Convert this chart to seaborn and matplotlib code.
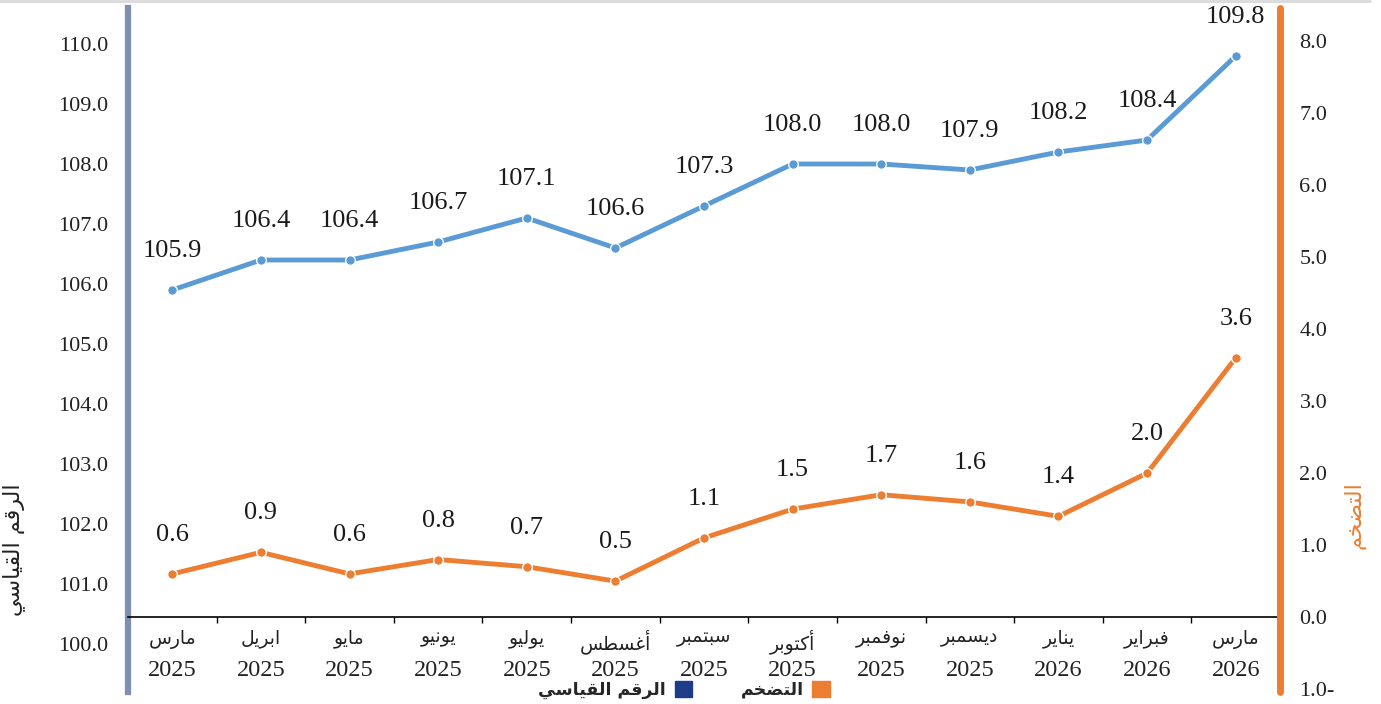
import numpy as np
import pandas as pd
import seaborn as sns
import matplotlib.pyplot as plt
from matplotlib.patches import Patch
from matplotlib.lines import Line2D
from matplotlib.ticker import FixedLocator, FuncFormatter

# chart data
months = ["مارس", "ابريل", "مايو", "يونيو", "يوليو", "أغسطس", "سبتمبر",
          "أكتوبر", "نوفمبر", "ديسمبر", "يناير", "فبراير", "مارس"]
years = ["2025", "2025", "2025", "2025", "2025", "2025", "2025",
         "2025", "2025", "2025", "2026", "2026", "2026"]
index_values = [105.9, 106.4, 106.4, 106.7, 107.1, 106.6, 107.3,
                108.0, 108.0, 107.9, 108.2, 108.4, 109.8]
inflation_values = [0.6, 0.9, 0.6, 0.8, 0.7, 0.5, 1.1,
                    1.5, 1.7, 1.6, 1.4, 2.0, 3.6]
index_ticks = [100, 101, 102, 103, 104, 105, 106, 107, 108, 109, 110]
inflation_ticks = [-1, 0, 1, 2, 3, 4, 5, 6, 7, 8]
index_name = "الرقم القياسي"
inflation_name = "التضخم"

blue = "#5b9bd5"
navy = "#1f3c88"
orange = "#ed7d31"

# matplotlib does no arabic shaping, so pick the joined letter forms by hand
# (isolated, final, initial, medial); None means the letter never joins forward
forms = {
    "ا": (0xFE8D, 0xFE8E, None, None), "أ": (0xFE83, 0xFE84, None, None),
    "د": (0xFEA9, 0xFEAA, None, None), "ر": (0xFEAD, 0xFEAE, None, None),
    "و": (0xFEED, 0xFEEE, None, None),
    "ب": (0xFE8F, 0xFE90, 0xFE91, 0xFE92), "ت": (0xFE95, 0xFE96, 0xFE97, 0xFE98),
    "خ": (0xFEA5, 0xFEA6, 0xFEA7, 0xFEA8), "س": (0xFEB1, 0xFEB2, 0xFEB3, 0xFEB4),
    "ض": (0xFEBD, 0xFEBE, 0xFEBF, 0xFEC0), "ط": (0xFEC1, 0xFEC2, 0xFEC3, 0xFEC4),
    "غ": (0xFECD, 0xFECE, 0xFECF, 0xFED0), "ف": (0xFED1, 0xFED2, 0xFED3, 0xFED4),
    "ق": (0xFED5, 0xFED6, 0xFED7, 0xFED8), "ك": (0xFED9, 0xFEDA, 0xFEDB, 0xFEDC),
    "ل": (0xFEDD, 0xFEDE, 0xFEDF, 0xFEE0), "م": (0xFEE1, 0xFEE2, 0xFEE3, 0xFEE4),
    "ن": (0xFEE5, 0xFEE6, 0xFEE7, 0xFEE8), "ي": (0xFEF1, 0xFEF2, 0xFEF3, 0xFEF4),
}


def shape(text):
    out = []
    for i, ch in enumerate(text):
        if ch not in forms:
            out.append(ch)
            continue
        prev = text[i - 1] if i > 0 else ""
        nxt = text[i + 1] if i + 1 < len(text) else ""
        iso, fin, ini, med = forms[ch]
        join_prev = prev in forms and forms[prev][2] is not None
        join_next = ini is not None and nxt in forms
        if join_prev and join_next:
            out.append(chr(med))
        elif join_prev:
            out.append(chr(fin))
        elif join_next:
            out.append(chr(ini))
        else:
            out.append(chr(iso))
    return "".join(reversed(out))


data = pd.DataFrame({"period": [m + " " + y for m, y in zip(months, years)],
                     "index": index_values, "inflation": inflation_values})

sns.set_style("white")
plt.rcParams["font.family"] = ["Liberation Serif", "DejaVu Sans"]

fig = plt.figure(figsize=(13.81, 7.04), dpi=100)
ax = fig.add_axes([128 / 1381, 12 / 704, 1152 / 1381, 684 / 704])

sns.lineplot(data=data, x="period", y="index", ax=ax, color=blue, lw=3.5,
             marker="o", ms=7, mec="white", mew=1, sort=False)
ax2 = ax.twinx()
sns.lineplot(data=data, x="period", y="inflation", ax=ax2, color=orange,
             lw=3.5, marker="o", ms=7, mec="white", mew=1, sort=False)

ax.set_xlim(-0.5, len(months) - 0.5)
ax.set_ylim(99.2, 110.6)
ax2.set_ylim(-1.04, 8.46)

# value labels
for i, v in enumerate(index_values):
    ax.annotate(f"{v:.1f}", (i, v), xytext=(0, 28), textcoords="offset points",
                ha="center", va="center", fontsize=19, color="#1a1a1a")
for i, v in enumerate(inflation_values):
    ax2.annotate(f"{v:.1f}", (i, v), xytext=(0, 28), textcoords="offset points",
                 ha="center", va="center", fontsize=19, color="#1a1a1a")

# y axes
ax.yaxis.set_major_locator(FixedLocator(index_ticks))
ax.yaxis.set_major_formatter(FuncFormatter(lambda v, p: f"{v:.1f}"))
ax.tick_params(axis="y", length=0, pad=14, labelsize=16, labelcolor="#222222")
ax2.yaxis.set_major_locator(FixedLocator(inflation_ticks))
ax2.yaxis.set_major_formatter(FuncFormatter(
    lambda v, p: f"{abs(v):.1f}-" if v < 0 else f"{v:.1f}"))
ax2.tick_params(axis="y", length=0, pad=14, labelsize=16, labelcolor="#222222")

# x axis line sits at zero inflation; months on it, years one line below
lo, hi = ax2.get_ylim()
base = (0 - lo) / (hi - lo)
ax.spines["bottom"].set_position(("axes", base))
ax.spines["bottom"].set_color("black")
ax.spines["bottom"].set_linewidth(1.2)
ax.set_xlabel("")
ticks = ax.get_xticks()
ax.set_xticks(ticks, [shape(m) for m in months])
ax.xaxis.set_minor_locator(FixedLocator(np.arange(0.5, len(months) - 1, 1)))
ax.tick_params(axis="x", which="major", length=0, pad=9, labelsize=13.5,
               labelcolor="#222222")
ax.tick_params(axis="x", which="minor", bottom=True, length=4, width=1,
               color="black")

year_axis = ax.secondary_xaxis(base)
year_axis.set_xticks(ticks, years)
year_axis.tick_params(length=0, pad=31, labelsize=17.5, labelcolor="#222222")
year_axis.spines["bottom"].set_visible(False)

for s in ["top", "right"]:
    ax.spines[s].set_visible(False)
for s in ["top", "bottom", "left"]:
    ax2.spines[s].set_visible(False)
ax.spines["left"].set_color("#7f8faf")
ax.spines["left"].set_linewidth(4.5)
ax2.spines["right"].set_color(orange)
ax2.spines["right"].set_linewidth(5)
ax2.spines["right"].set_capstyle("round")

ax.set_ylabel(shape(index_name), fontsize=16, color="#222222",
              family=["DejaVu Sans"])
ax.yaxis.set_label_coords(-0.089, 0.208)
ax2.set_ylabel(shape(inflation_name), fontsize=16, color=orange,
               family=["DejaVu Sans"])
ax2.yaxis.set_label_coords(1.055, 0.259)

handles = [Patch(color=navy, label=shape(index_name)),
           Patch(color=orange, label=shape(inflation_name))]
fig.legend(handles=handles, loc="center", bbox_to_anchor=(684 / 1381, 0.02),
           ncol=2, markerfirst=False, frameon=False, handlelength=1,
           handleheight=1, columnspacing=2.8, handletextpad=0.5,
           prop={"family": ["DejaVu Sans"], "weight": "bold", "size": 12.5})

fig.add_artist(Line2D([0, 0.992], [0.998, 0.998], color="#d9d9d9", lw=2,
                      transform=fig.transFigure))

fig.savefig("out.png", dpi=100)
